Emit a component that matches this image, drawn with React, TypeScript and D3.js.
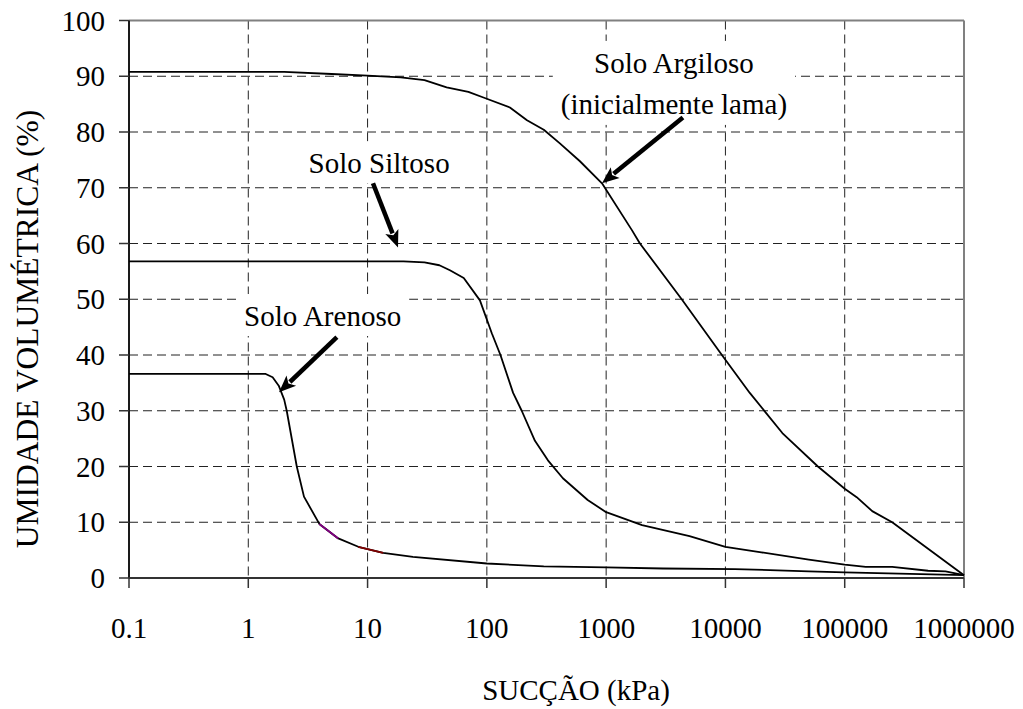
import React, { useEffect, useRef } from 'react';
import * as d3 from 'd3';

// Suction (kPa) / volumetric moisture (%)
const argSuction = [0.1, 2, 5, 10, 19, 30, 46, 70, 96, 156, 217, 300, 407, 600, 923, 1644, 1920, 4300, 9340, 16000, 30000, 59600, 100000, 126000, 170000, 250000, 1000000];
const argMoisture = [90.8, 90.8, 90.4, 90.1, 89.8, 89.3, 88.0, 87.2, 86.1, 84.4, 82.1, 80.4, 78.0, 74.8, 70.8, 62.4, 60, 50, 40, 33.2, 26, 20, 16, 14.5, 12, 10, 0.5];

const siltSuction = [0.1, 20, 30, 40, 49, 64, 87.5, 110, 130, 166, 196, 253, 325, 434, 700, 1000, 2000, 5000, 10000, 20000, 50000, 100000, 150000, 250000, 500000, 700000, 1000000];
const siltMoisture = [56.8, 56.8, 56.6, 56.1, 55.2, 53.8, 49.8, 43.9, 40, 33.2, 30, 24.6, 21.1, 17.9, 14.0, 11.8, 9.5, 7.5, 5.6, 4.6, 3.3, 2.4, 2.0, 2.0, 1.3, 1.2, 0.5];

const sandSuction = [0.1, 1.4, 1.6, 1.8, 2.0, 2.1, 2.55, 2.93, 3.94, 5.68, 8.36, 10, 13.5, 24, 100, 300, 1000, 3000, 12000, 50000, 100000, 1000000];
const sandMoisture = [36.6, 36.6, 36.0, 34.5, 32, 30, 20, 14.6, 9.7, 7.1, 5.6, 5.2, 4.5, 3.8, 2.6, 2.1, 1.9, 1.7, 1.6, 1.2, 1.0, 0.5];

// little coloured stretches on the sandy curve (index ranges into the arrays above)
const sandTints = [
  { from: 8, to: 9, color: '#800080' },
  { from: 10, to: 12, color: '#800000' },
];

const xTicks = [0.1, 1, 10, 100, 1000, 10000, 100000, 1000000];
const xTickLabels = ['0.1', '1', '10', '100', '1000', '10000', '100000', '1000000'];
const yTicks = [0, 10, 20, 30, 40, 50, 60, 70, 80, 90, 100];

// annotations, in data coordinates
const labels = [
  { lines: ['Solo Argiloso', '(inicialmente lama)'], x: 3700, y: 90.6 },
  { lines: ['Solo Siltoso'], x: 12.5, y: 72.6 },
  { lines: ['Solo Arenoso'], x: 4.2, y: 45.2 },
];
const arrows = [
  { x1: 4400, y1: 82.6, x2: 923, y2: 70.8 },
  { x1: 11.1, y1: 70.8, x2: 18, y2: 59.3 },
  { x1: 5.53, y1: 43.2, x2: 1.81, y2: 33.3 },
];

const FONT = '"Liberation Serif", "Times New Roman", serif';

const App: React.FC = () => {
  const svgRef = useRef<SVGSVGElement>(null);

  useEffect(() => {
    if (!svgRef.current) return;
    const svg = d3.select(svgRef.current);
    svg.selectAll('*').remove();

    const left = 129, right = 964, top = 20.5, bottom = 578;
    const x = d3.scaleLog().domain([0.1, 1e6]).range([left, right]);
    const y = d3.scaleLinear().domain([0, 100]).range([bottom, top]);

    svg.append('rect').attr('width', 1023).attr('height', 709).attr('fill', '#fff');

    // grid
    const grid = svg.append('g').attr('stroke', '#222').attr('stroke-width', 1).attr('stroke-dasharray', '9,5');
    xTicks.slice(1, -1).forEach(t => {
      grid.append('line').attr('x1', x(t)).attr('x2', x(t)).attr('y1', top).attr('y2', bottom);
    });
    yTicks.slice(1, -1).forEach(t => {
      grid.append('line').attr('x1', left).attr('x2', right).attr('y1', y(t)).attr('y2', y(t));
    });

    // frame
    svg.append('line').attr('x1', left).attr('x2', right).attr('y1', top).attr('y2', top)
      .attr('stroke', '#808080').attr('stroke-width', 2);
    svg.append('line').attr('x1', right).attr('x2', right).attr('y1', top).attr('y2', bottom)
      .attr('stroke', '#808080').attr('stroke-width', 2);

    // label boxes (white, hide grid) + text
    const labelLayer = svg.append('g');
    labels.forEach(l => {
      const g = labelLayer.append('g');
      const txt = g.append('text')
        .attr('x', x(l.x)).attr('y', y(l.y))
        .attr('text-anchor', 'middle')
        .attr('font-family', FONT).attr('font-size', 29).attr('fill', '#000');
      l.lines.forEach((s, i) => {
        txt.append('tspan').attr('x', x(l.x)).attr('dy', i === 0 ? 0 : 41).text(s);
      });
      const bb = (txt.node() as SVGTextElement).getBBox();
      g.insert('rect', 'text')
        .attr('x', bb.x - 8).attr('y', bb.y - 6)
        .attr('width', bb.width + 16).attr('height', bb.height + 10)
        .attr('fill', '#fff');
    });

    // axes
    svg.append('line').attr('x1', left).attr('x2', left).attr('y1', top).attr('y2', bottom)
      .attr('stroke', '#1a1a1a').attr('stroke-width', 2);
    svg.append('line').attr('x1', left).attr('x2', right).attr('y1', bottom).attr('y2', bottom)
      .attr('stroke', '#333').attr('stroke-width', 2);

    yTicks.forEach(t => {
      svg.append('line').attr('x1', left - 10).attr('x2', left).attr('y1', y(t)).attr('y2', y(t))
        .attr('stroke', '#333').attr('stroke-width', 1.5);
      svg.append('text').attr('x', 105).attr('y', y(t) + 10)
        .attr('text-anchor', 'end').attr('font-family', FONT).attr('font-size', 29)
        .text(String(t));
    });
    xTicks.forEach((t, i) => {
      svg.append('line').attr('x1', x(t)).attr('x2', x(t)).attr('y1', bottom).attr('y2', bottom + 10)
        .attr('stroke', '#333').attr('stroke-width', 1.5);
      svg.append('text').attr('x', x(t)).attr('y', 638)
        .attr('text-anchor', 'middle').attr('font-family', FONT).attr('font-size', 29)
        .text(xTickLabels[i]);
    });

    svg.append('text').attr('x', 576).attr('y', 700)
      .attr('text-anchor', 'middle').attr('font-family', FONT).attr('font-size', 29)
      .text('SUCÇÃO (kPa)');
    svg.append('text').attr('transform', 'translate(38,329) rotate(-90)')
      .attr('text-anchor', 'middle').attr('font-family', FONT).attr('font-size', 31.5)
      .text('UMIDADE VOLUMÉTRICA (%)');

    // curves
    const line = d3.line<[number, number]>().x(d => x(d[0])).y(d => y(d[1]));
    const series = [
      d3.zip(argSuction, argMoisture) as [number, number][],
      d3.zip(siltSuction, siltMoisture) as [number, number][],
      d3.zip(sandSuction, sandMoisture) as [number, number][],
    ];
    series.forEach(pts => {
      svg.append('path').attr('d', line(pts)).attr('fill', 'none')
        .attr('stroke', '#000').attr('stroke-width', 1.8).attr('stroke-linejoin', 'round');
    });
    sandTints.forEach(t => {
      svg.append('path').attr('d', line(series[2].slice(t.from, t.to + 1))).attr('fill', 'none')
        .attr('stroke', t.color).attr('stroke-width', 1.8);
    });

    // arrows
    arrows.forEach(a => {
      const sx = x(a.x1), sy = y(a.y1), tx = x(a.x2), ty = y(a.y2);
      const ang = Math.atan2(ty - sy, tx - sx);
      const headLen = 17, headW = 7;
      const bx = tx - headLen * Math.cos(ang), by = ty - headLen * Math.sin(ang);
      svg.append('line').attr('x1', sx).attr('y1', sy).attr('x2', bx + 2 * Math.cos(ang)).attr('y2', by + 2 * Math.sin(ang))
        .attr('stroke', '#000').attr('stroke-width', 4.5);
      const px = -Math.sin(ang), py = Math.cos(ang);
      svg.append('polygon')
        .attr('points', [
          [tx, ty],
          [bx + px * headW, by + py * headW],
          [bx + 4 * Math.cos(ang), by + 4 * Math.sin(ang)],
          [bx - px * headW, by - py * headW],
        ].map(p => p.join(',')).join(' '))
        .attr('fill', '#000');
    });
  }, []);

  return (
    <svg ref={svgRef} width={1023} height={709}
      style={{ position: 'absolute', left: 0, top: 0, display: 'block' }} />
  );
};

export default App;
